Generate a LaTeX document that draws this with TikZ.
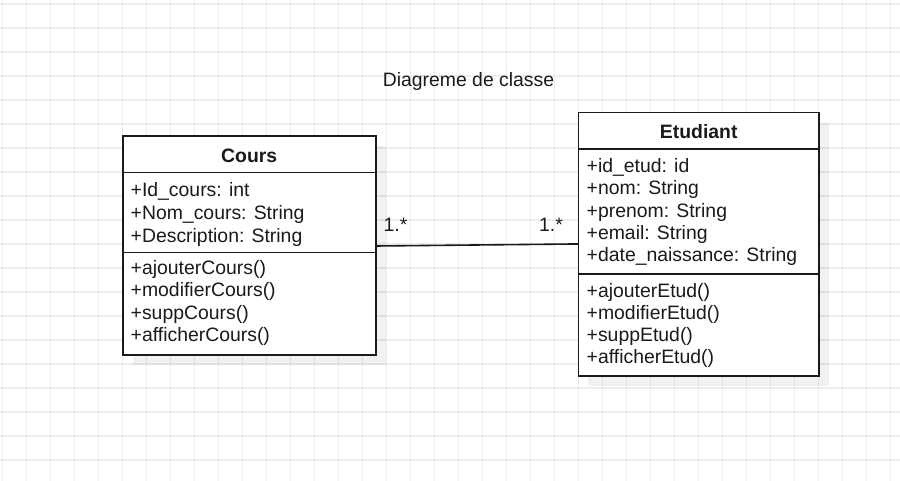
\documentclass[tikz,border=0pt]{standalone}
\usepackage{fontspec}
\setmainfont{Liberation Sans}
\usetikzlibrary{calc}
\definecolor{gridc}{HTML}{EDEDED}
\definecolor{ink}{HTML}{1A1A1A}
\tikzset{
  gridline/.style={draw=gridc, line width=1.3pt},
  part/.style={draw=ink, fill=white, line width=1.6pt, inner sep=0pt, outer sep=0pt, anchor=north west},
  shadowbox/.style={fill=black, opacity=0.055},
  txt/.style={inner sep=0pt, anchor=base west, text=ink, font=\fontsize{19.4}{23}\selectfont},
  head/.style={inner sep=0pt, anchor=base, text=ink, font=\fontsize{19.4}{23}\selectfont\bfseries},
  assoc/.style={draw=ink, line width=1.6pt},
}
\begin{document}
\begin{tikzpicture}[x=1pt,y=-1pt]
\useasboundingbox (0,0) rectangle (900,481);
\fill[white] (0,0) rectangle (900,481);
% grid
\foreach \i in {0,...,37} {\draw[gridline] (2.7+24*\i,0) -- (2.7+24*\i,481);}
\foreach \j in {0,...,20} {\draw[gridline] (0,4+24*\j) -- (900,4+24*\j);}
% title
\node[txt, anchor=base] (title) at (468.5,87) {Diagreme de classe};
% shadows
\fill[shadowbox] (132.7,146) rectangle (385.7,365);
\fill[shadowbox] (588.3,122.7) rectangle (829,386);
% Cours class
\node[part, minimum width=253pt, minimum height=36.7pt] (coursH) at (122.7,136) {};
\node[part, minimum width=253pt, minimum height=80pt] (coursA) at (122.7,172.7) {};
\node[part, minimum width=253pt, minimum height=102.3pt] (coursM) at (122.7,252.7) {};
\node[head] (coursT) at (249.2,162.4) {Cours};
\node[txt] (ca1) at (130.5,196.7) {+Id\_cours: int};
\node[txt] (ca2) at (130.5,219.8) {+Nom\_cours: String};
\node[txt] (ca3) at (130.5,242.8) {+Description: String};
\node[txt] (cm1) at (130.5,274.4) {+ajouterCours()};
\node[txt] (cm2) at (130.5,296.8) {+modifierCours()};
\node[txt] (cm3) at (130.5,319.1) {+suppCours()};
\node[txt] (cm4) at (130.5,341.4) {+afficherCours()};
% Etudiant class
\node[part, minimum width=240.7pt, minimum height=36.6pt] (etuH) at (578.3,112.7) {};
\node[part, minimum width=240.7pt, minimum height=124.7pt] (etuA) at (578.3,149.3) {};
\node[part, minimum width=240.7pt, minimum height=102pt] (etuM) at (578.3,274) {};
\node[head] (etuT) at (698.7,138.8) {Etudiant};
\node[txt] (ea1) at (586.5,172.5) {+id\_etud: id};
\node[txt] (ea2) at (586.5,194.8) {+nom: String};
\node[txt] (ea3) at (586.5,217.1) {+prenom: String};
\node[txt] (ea4) at (586.5,239.4) {+email: String};
\node[txt] (ea5) at (586.5,261.7) {+date\_naissance: String};
\node[txt] (em1) at (586.5,297.5) {+ajouterEtud()};
\node[txt] (em2) at (586.5,319.5) {+modifierEtud()};
\node[txt] (em3) at (586.5,341.5) {+suppEtud()};
\node[txt] (em4) at (586.5,363.5) {+afficherEtud()};
% association
\draw[assoc] ($(coursA.south east)+(0,-6.7)$) -- ($(etuA.west)+(0,32.3)$);
\node[txt] (m1) at (383.5,231.7) {1.*};
\node[txt] (m2) at (539,231.7) {1.*};
\end{tikzpicture}
\end{document}
